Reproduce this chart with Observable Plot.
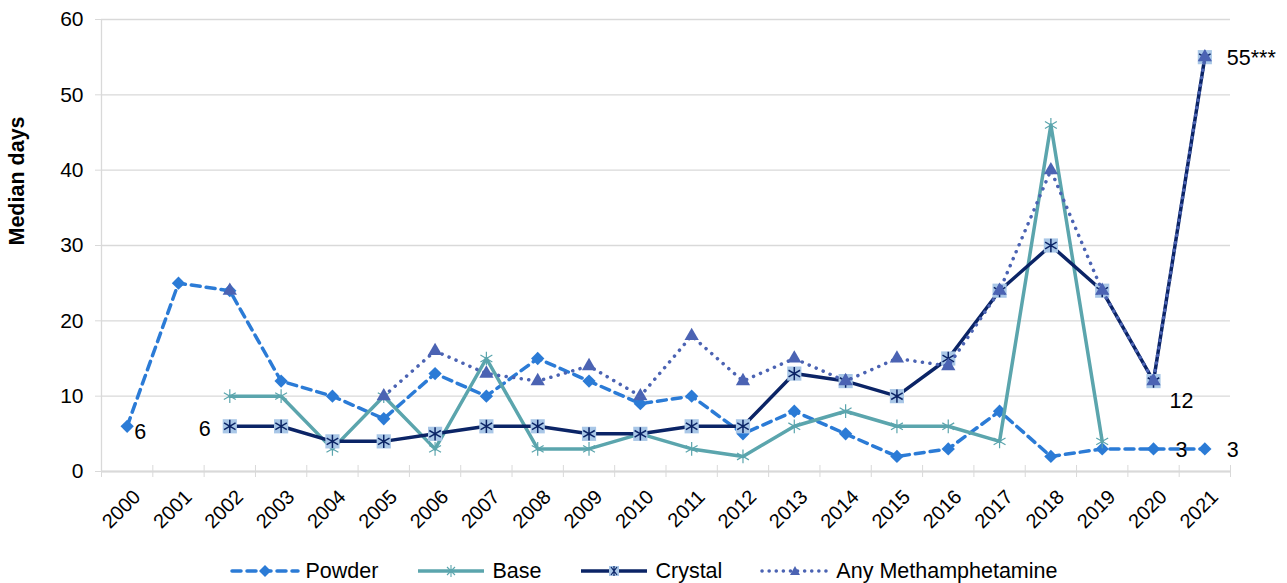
<!DOCTYPE html>
<html>
<head>
<meta charset="utf-8">
<script src="https://cdn.jsdelivr.net/npm/d3@7"></script>
<script src="https://cdn.jsdelivr.net/npm/@observablehq/plot@0.6"></script>
<style>
  html, body { margin: 0; padding: 0; background: #fff; }
  body { width: 1287px; height: 583px; overflow: hidden; font-family: "Liberation Sans", Arial, sans-serif; }
  #legend { display: flex; justify-content: center; align-items: center; height: 38px; padding-top: 14px; box-sizing: border-box; font-size: 21.5px; color: #000; }
  .item { display: flex; align-items: center; margin: 0 19px; }
  .item svg { margin-right: 6px; }
</style>
</head>
<body>
<div id="chart"></div>
<div id="legend"></div>
<script>
const years = [2000,2001,2002,2003,2004,2005,2006,2007,2008,2009,2010,2011,2012,2013,2014,2015,2016,2017,2018,2019,2020,2021];
const powder  = [6,25,24,12,10,7,13,10,15,12,9,10,5,8,5,2,3,8,2,3,3,3];
const base    = [null,null,10,10,3,10,3,15,3,3,5,3,2,6,8,6,6,4,46,4,null,null];
const crystal = [null,null,6,6,4,4,5,6,6,5,5,6,6,13,12,10,15,24,30,24,12,55];
const anyMeth = [null,null,24,null,null,10,16,13,12,14,10,18,12,15,12,15,14,24,40,24,12,55];
const seriesNames = ["Powder","Base","Crystal","Any Methamphetamine"];
const yTicks = [0,10,20,30,40,50,60];
const dataLabels = [
  {s: "Powder", year: 2000, text: "6", anchor: "start", dx: 7, dy: 6},
  {s: "Crystal", year: 2002, text: "6", anchor: "end", dx: -19, dy: 3},
  {s: "Crystal", year: 2020, text: "12", anchor: "start", dx: 16, dy: 20},
  {s: "Powder", year: 2020, text: "3", anchor: "start", dx: 22, dy: 1},
  {s: "Powder", year: 2021, text: "3", anchor: "start", dx: 22, dy: 1},
  {s: "Crystal", year: 2021, text: "55***", anchor: "start", dx: 22, dy: 1}
];

const colors = {Powder: "#2b7bd6", Base: "#5ba5ad", Crystal: "#0b2466", "Any Methamphetamine": "#4b63b3"};
const crystalFill = "#a9c7e7";

const valuesBy = {Powder: powder, Base: base, Crystal: crystal, "Any Methamphetamine": anyMeth};
const rows = s => years.map((y, i) => ({year: y, value: valuesBy[s][i]}));
const defined = s => rows(s).filter(d => d.value != null);
const boundaries = [...years.map(y => y - 0.5), years[years.length - 1] + 0.5];
const labelRows = dataLabels.map(l => ({...l, value: valuesBy[l.s][years.indexOf(l.year)]}));

const lineOpts = {x: "year", y: "value", strokeWidth: 3.5};

const chart = Plot.plot({
  width: 1287,
  height: 545,
  marginLeft: 101,
  marginRight: 57,
  marginTop: 19,
  marginBottom: 74,
  style: {fontFamily: "'Liberation Sans', Arial, sans-serif", fontSize: "21px", color: "#000", background: "#fff"},
  x: {domain: [years[0] - 0.5, years[years.length - 1] + 0.5]},
  y: {domain: [0, 60]},
  marks: [
    Plot.gridY(yTicks, {stroke: "#d9d9d9", strokeOpacity: 1, strokeWidth: 1.3}),
    Plot.ruleX([years[0] - 0.5], {stroke: "#d9d9d9", strokeWidth: 1.3}),
    Plot.axisY({ticks: yTicks, tickSize: 6, tickPadding: 12, stroke: "#d9d9d9", strokeOpacity: 1, label: null, fontSize: 21}),
    Plot.ruleY([0], {stroke: "#d9d9d9", strokeWidth: 1.8}),
    Plot.axisX({ticks: boundaries, tickSize: 12, dy: -6, tickFormat: () => "", stroke: "#d9d9d9", strokeOpacity: 1, label: null}),
    Plot.axisX({ticks: years, tickSize: 0, tickRotate: -45, tickPadding: 22, dx: 10, tickFormat: d => String(d), label: null, fontSize: 20}),
    Plot.text(["Median days"], {frameAnchor: "left", dx: -84, rotate: -90, fontWeight: "bold", fontSize: 21.5}),

    Plot.line(rows("Powder"), {...lineOpts, stroke: colors.Powder, strokeDasharray: "9,6", strokeLinecap: "round"}),
    Plot.dot(defined("Powder"), {x: "year", y: "value", symbol: "diamond2", r: 6, fill: colors.Powder, stroke: "none"}),

    Plot.line(rows("Base"), {...lineOpts, stroke: colors.Base}),
    Plot.dot(defined("Base"), {x: "year", y: "value", symbol: "asterisk", r: 6.5, stroke: colors.Base, strokeWidth: 1.2, fill: "none"}),

    Plot.line(rows("Crystal"), {...lineOpts, stroke: colors.Crystal}),
    Plot.dot(defined("Crystal"), {x: "year", y: "value", symbol: "square", r: 8, fill: crystalFill, stroke: "none"}),
    Plot.dot(defined("Crystal"), {x: "year", y: "value", symbol: "asterisk", r: 6.3, stroke: colors.Crystal, strokeWidth: 1.5, fill: "none"}),

    Plot.line(rows("Any Methamphetamine"), {...lineOpts, stroke: colors["Any Methamphetamine"], strokeDasharray: "0.1,7.5", strokeLinecap: "round"}),
    Plot.dot(defined("Any Methamphetamine"), {x: "year", y: "value", symbol: "triangle", r: 5.3, fill: colors["Any Methamphetamine"], stroke: "none"}),

    ...labelRows.map(l => Plot.text([l], {x: "year", y: "value", text: "text", textAnchor: l.anchor, dx: l.dx, dy: l.dy, fontSize: 21.5, fill: "#000"}))
  ]
});
document.getElementById("chart").appendChild(chart);

(function(){
  const legend = document.getElementById("legend");
  const markers = {Powder: "diamond", Base: "asterisk", Crystal: "crystal", "Any Methamphetamine": "triangle"};
  const dashes = {Powder: "9,6", Base: null, Crystal: null, "Any Methamphetamine": "0.1,7"};
  for (const name of seriesNames) {
    const c = colors[name];
    const div = document.createElement("div");
    div.className = "item";
    const mk = markers[name];
    let m = "";
    if (mk === "diamond") m = `<path d="M35,4 L41,10 L35,16 L29,10 Z" fill="${c}"/>`;
    if (mk === "asterisk") m = `<path d="M35,4 V16 M29,10 H41 M31,6 L39,14 M39,6 L31,14" stroke="${c}" stroke-width="1.1"/>`;
    if (mk === "crystal") m = `<rect x="30" y="5" width="10" height="10" fill="${crystalFill}"/><path d="M32,6 L38,14 M38,6 L32,14 M35,5 V15" stroke="${c}" stroke-width="1.2"/>`;
    if (mk === "triangle") m = `<path d="M35,5 L40,14 L30,14 Z" fill="${c}"/>`;
    const dash = dashes[name];
    div.innerHTML = `<svg width="70" height="20" viewBox="0 0 70 20"><line x1="2" y1="10" x2="68" y2="10" stroke="${c}" stroke-width="3.5" ${dash ? `stroke-dasharray="${dash}"` : ""} stroke-linecap="${dash ? "round" : "butt"}"/>${m}</svg><span>${name}</span>`;
    legend.appendChild(div);
  }
})();
</script>
</body>
</html>
